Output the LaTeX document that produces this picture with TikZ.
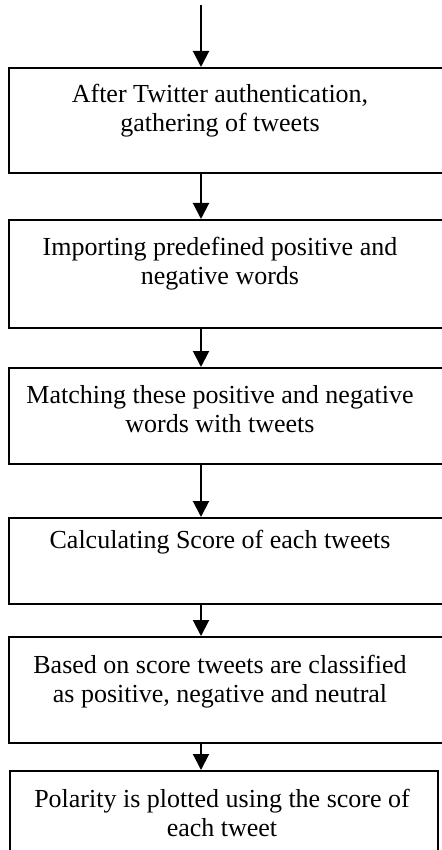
\documentclass[tikz,border=0pt]{standalone}
\usepackage{fontspec}
\setmainfont{Liberation Serif}
\usetikzlibrary{arrows.meta}
\tikzset{
  stepbox/.style={draw, line width=1pt, anchor=north west, inner sep=0pt},
  steptext/.style={anchor=north, align=center, inner sep=0pt, font=\fontsize{13pt}{14.4pt}\selectfont},
  flow/.style={line width=1pt, -{Triangle[width=8pt,length=8pt]}}
}
\begin{document}
\begin{tikzpicture}[x=0.5pt,y=-0.5pt]
		\useasboundingbox (0,0) rectangle (442,850);
	
		% Cajas
			\node[stepbox, minimum width=219pt, minimum height=52.5pt] (gather) at (8,67) {};
			\node[stepbox, minimum width=219pt, minimum height=54pt] (import) at (8,219) {};
			\node[stepbox, minimum width=219pt, minimum height=48pt] (match) at (8,367) {};
			\node[stepbox, minimum width=219pt, minimum height=43pt] (score) at (8,517) {};
			\node[stepbox, minimum width=219pt, minimum height=53pt] (classify) at (8,636) {};
			\node[stepbox, minimum width=214pt, minimum height=45pt] (plot) at (9,770) {};
	
		% Textos
			\node[steptext] (gathertext) at (220,84) {After Twitter authentication,\\gathering of tweets};
			\node[steptext] (importtext) at (220,237) {Importing predefined positive and\\negative words};
			\node[steptext] (matchtext) at (220,385) {Matching these positive and negative\\words with tweets};
			\node[steptext] (scoretext) at (220,530) {Calculating Score of each tweets};
			\node[steptext] (classifytext) at (220,655) {Based on score tweets are classified\\as positive, negative and neutral};
			\node[steptext] (plottext) at (222,789) {Polarity is plotted using the score of\\each tweet};
	
		% Flechas
			\coordinate (entry) at (201,5);
			\draw[flow] (entry) -- (entry |- gather.north);
			\draw[flow] (entry |- gather.south) -- (entry |- import.north);
			\draw[flow] (entry |- import.south) -- (entry |- match.north);
			\draw[flow] (entry |- match.south) -- (entry |- score.north);
			\draw[flow] (entry |- score.south) -- (entry |- classify.north);
			\draw[flow] (entry |- classify.south) -- (entry |- plot.north);
	\end{tikzpicture}
\end{document}
